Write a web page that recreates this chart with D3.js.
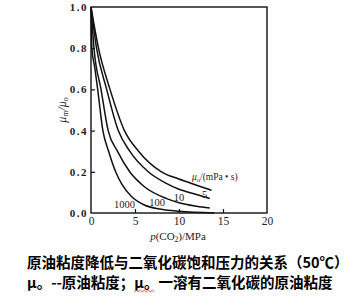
<!DOCTYPE html>
<html>
<head>
<meta charset="utf-8">
<script src="https://cdn.jsdelivr.net/npm/d3@7"></script>
<style>
  body { margin: 0; background: #fff; }
  svg { display: block; }
</style>
</head>
<body>
<div id="chart"></div>
<script>
// values
const yTicks = [0, 0.2, 0.4, 0.6, 0.8, 1.0];
const xTicks = [0, 5, 10, 15, 20];
const viscosities = ['5', '10', '100', '1000'];

const curve5 = [[0, 1], [0.85, 0.8], [2.16, 0.6], [3.8, 0.4], [5.4, 0.3], [8.0, 0.2], [10, 0.165], [12, 0.135], [13.7, 0.11]];
const curve10 = [[0, 1], [0.63, 0.8], [1.78, 0.6], [3.1, 0.4], [4.4, 0.3], [6.5, 0.2], [8.5, 0.145], [10, 0.115], [12, 0.09], [13.5, 0.07]];
const curve100 = [[0, 1], [0.34, 0.8], [1.14, 0.6], [1.95, 0.4], [3.0, 0.3], [4.4, 0.2], [6, 0.13], [8.6, 0.07], [10, 0.05], [12, 0.033], [13.5, 0.024]];
const curve1000 = [[0, 1], [0.1, 0.8], [0.45, 0.7], [0.76, 0.6], [1.35, 0.4], [2.0, 0.3], [2.8, 0.2], [3.5, 0.14], [4.6, 0.08], [6, 0.04], [8, 0.018], [10, 0.008], [14, 0]];

// where each curve label sits, in data units
const labelPos = [[12.9, 0.09], [10, 0.075], [7.5, 0.05], [3.8, 0.04]];

const width = 355, height = 306;
const svg = d3.select('#chart').append('svg')
  .attr('width', width)
  .attr('height', height);

const x = d3.scaleLinear().domain([0, 20]).range([91, 267]);
const y = d3.scaleLinear().domain([0, 1]).range([213, 7]);

const serif = '"Liberation Serif", "DejaVu Serif", serif';

// frame
svg.append('rect')
  .attr('x', x(0))
  .attr('y', y(1))
  .attr('width', x(20) - x(0))
  .attr('height', y(0) - y(1))
  .attr('fill', 'none')
  .attr('stroke', '#111')
  .attr('stroke-width', 1.4);

const yAxis = d3.axisLeft(y)
  .tickValues(yTicks)
  .tickSize(-4)
  .tickPadding(3)
  .tickFormat(d3.format('.1f'));

const gy = svg.append('g')
  .attr('transform', 'translate(' + x(0) + ',0)')
  .call(yAxis);
gy.select('.domain').remove();
gy.selectAll('.tick line').attr('stroke', '#111').attr('stroke-width', 1.2)
  .filter(d => d === 0 || d === 1).remove();
gy.selectAll('.tick text')
  .attr('font-family', serif)
  .attr('font-size', 11)
  .attr('font-weight', 'bold')
  .attr('letter-spacing', 1.5)
  .attr('fill', '#222');

const xAxis = d3.axisBottom(x)
  .tickValues(xTicks)
  .tickSize(-4)
  .tickPadding(4)
  .tickFormat(d3.format('d'));

const gx = svg.append('g')
  .attr('transform', 'translate(0,' + y(0) + ')')
  .call(xAxis);
gx.select('.domain').remove();
gx.selectAll('.tick line').attr('stroke', '#111').attr('stroke-width', 1.2)
  .filter(d => d === 0 || d === 20).remove();
gx.selectAll('.tick text')
  .attr('font-family', serif)
  .attr('font-size', 11.5)
  .attr('fill', '#222');

// curves
const line = d3.line()
  .x(d => x(d[0]))
  .y(d => y(d[1]))
  .curve(d3.curveMonotoneX);

svg.selectAll('.curve')
  .data([curve5, curve10, curve100, curve1000])
  .enter()
    .append('path')
    .attr('class', 'curve')
    .attr('d', line)
    .attr('fill', 'none')
    .attr('stroke', '#111')
    .attr('stroke-width', 1.5);

svg.selectAll('.clabel')
  .data(viscosities)
  .enter()
    .append('text')
    .attr('class', 'clabel')
    .attr('x', (d, i) => x(labelPos[i][0]))
    .attr('y', (d, i) => y(labelPos[i][1]))
    .attr('text-anchor', 'middle')
    .attr('dy', '0.35em')
    .attr('font-family', serif)
    .attr('font-size', 10.5)
    .attr('fill', '#222')
    .text(d => d);

// unit label
const unit = svg.append('text')
  .attr('x', 192)
  .attr('y', 180)
  .attr('font-family', serif)
  .attr('font-size', 9.5)
  .attr('fill', '#222');
unit.append('tspan').attr('font-style', 'italic').text('μ');
unit.append('tspan').attr('font-size', 6.5).attr('dy', 1.5).text('o');
unit.append('tspan').attr('dy', -1.5).text('/(mPa • s)');

// x axis title
const xt = svg.append('text')
  .attr('x', 178)
  .attr('y', 240)
  .attr('text-anchor', 'middle')
  .attr('font-family', serif)
  .attr('font-size', 11)
  .attr('fill', '#222');
xt.append('tspan').attr('font-style', 'italic').text('p');
xt.append('tspan').text('(CO');
xt.append('tspan').attr('font-size', 7.5).attr('dy', 2).text('2');
xt.append('tspan').attr('dy', -2).text(')/MPa');

// y axis title
const yt = svg.append('text')
  .attr('transform', 'translate(66,110) rotate(-90)')
  .attr('text-anchor', 'middle')
  .attr('font-family', serif)
  .attr('font-size', 12)
  .attr('fill', '#222');
yt.append('tspan').attr('font-style', 'italic').text('μ');
yt.append('tspan').attr('font-size', 8).attr('dy', 2).text('m');
yt.append('tspan').attr('dy', -2).attr('font-style', 'italic').text('/μ');
yt.append('tspan').attr('font-size', 8).attr('dy', 2).text('o');

// caption
const cjk = '"Noto Sans CJK SC", "Noto Sans", sans-serif';
svg.append('text')
  .attr('x', 27)
  .attr('y', 268)
  .attr('font-family', cjk)
  .attr('font-size', 14.5)
  .attr('font-weight', 'bold')
  .attr('fill', '#000')
  .text('原油粘度降低与二氧化碳饱和压力的关系（50℃）');

const cap2 = svg.append('text')
  .attr('x', 27)
  .attr('y', 288)
  .attr('font-family', cjk)
  .attr('font-size', 14.5)
  .attr('font-weight', 'bold')
  .attr('fill', '#000')
  .text('μ。--原油粘度；μ。一溶有二氧化碳的原油粘度');

// spell-check squiggle under the second μ
const node = cap2.node();
const s0 = node.getStartPositionOfChar(9).x;
const s1 = node.getEndPositionOfChar(10).x - 4;
const squiggle = d3.range(0, Math.floor((s1 - s0) / 2) + 1).map(i => [s0 + i * 2, 291 + (i % 2 ? -1.2 : 1.2)]);
svg.append('path')
  .attr('d', d3.line()(squiggle))
  .attr('fill', 'none')
  .attr('stroke', '#e33')
  .attr('stroke-width', 0.8);
</script>
</body>
</html>
